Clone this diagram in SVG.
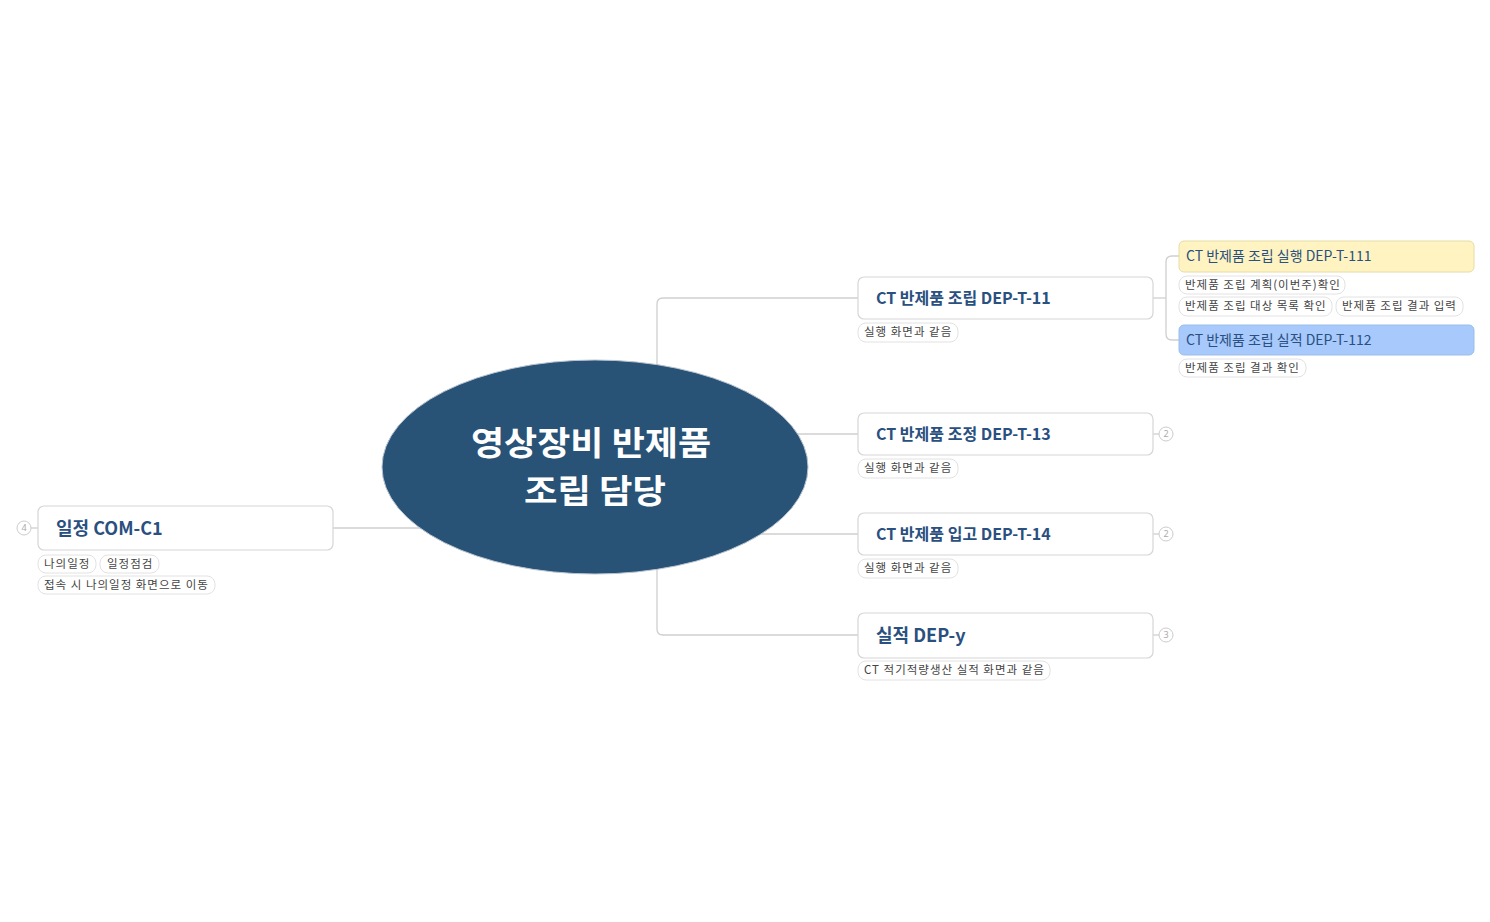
<svg xmlns="http://www.w3.org/2000/svg" width="1490" height="922" viewBox="0 0 1490 922">
<style>
.bg{fill:#ffffff}
.node{fill:#ffffff;stroke:#d6d6d6;stroke-width:1.2}
.pill{fill:#ffffff;stroke:#e2e2e2;stroke-width:1}
.conn{fill:none;stroke:#cfcfcf;stroke-width:1.3}
.t1{font-family:"Noto Sans CJK KR","Noto Sans",sans-serif;font-weight:bold;font-size:16px;fill:#2a5080}
.t2{font-family:"Noto Sans CJK KR","Noto Sans",sans-serif;font-size:14px;fill:#2a5080}
.tp{font-family:"Noto Sans CJK KR","Noto Sans",sans-serif;font-size:11.5px;letter-spacing:1px;fill:#444444}
.cc{fill:#ffffff;stroke:#cccccc;stroke-width:1}
.ct{font-family:"Noto Sans",sans-serif;font-size:9px;fill:#aaaaaa;text-anchor:middle}
.root{font-family:"Noto Sans CJK KR","Noto Sans",sans-serif;font-weight:bold;font-size:33px;fill:#ffffff;text-anchor:middle}
</style>
<rect class="bg" x="0" y="0" width="1490" height="922"/>
<g id="connectors">
<path class="conn" d="M858 298 H663 Q657 298 657 304 V629 Q657 635 663 635 H858"/>
<path class="conn" d="M780 434 H858"/>
<path class="conn" d="M760 534 H858"/>
<path class="conn" d="M333 528 H430"/>
<path class="conn" d="M1153 298 H1166"/>
<path class="conn" d="M1179 256 H1172 Q1166 256 1166 262 V334 Q1166 340 1172 340 H1179"/>
<path class="conn" d="M1153 434 H1159"/>
<path class="conn" d="M1153 534 H1159"/>
<path class="conn" d="M1153 635 H1159"/>
<path class="conn" d="M31 528 H38"/>
</g>
<g id="root">
<ellipse cx="595" cy="467" rx="213" ry="107" fill="#285276" stroke="#b8c4d0" stroke-width="1"/>
<text class="root" x="591" y="455" textLength="240" lengthAdjust="spacingAndGlyphs">영상장비 반제품</text>
<text class="root" x="595" y="503" textLength="142" lengthAdjust="spacingAndGlyphs">조립 담당</text>
</g>
<g id="n-com">
<rect class="node" x="38" y="506" width="295" height="44" rx="6"/>
<text class="t1" x="56" y="535" style="font-size:18px">일정 COM-C1</text>
<circle class="cc" cx="24" cy="528" r="7"/><text class="ct" x="24" y="531">4</text>
<rect class="pill" x="38" y="555" width="58" height="18" rx="8"/><text class="tp" x="44" y="568">나의일정</text>
<rect class="pill" x="100" y="555" width="59" height="18" rx="8"/><text class="tp" x="107" y="568">일정점검</text>
<rect class="pill" x="38" y="576" width="177" height="18" rx="8"/><text class="tp" x="44" y="589">접속 시 나의일정 화면으로 이동</text>
</g>
<g id="n-t11">
<rect class="node" x="858" y="277" width="295" height="42" rx="6"/>
<text class="t1" x="876" y="304">CT 반제품 조립 DEP-T-11</text>
<rect class="pill" x="858" y="323" width="100" height="19" rx="8"/><text class="tp" x="864" y="336">실행 화면과 같음</text>
</g>
<g id="n-t111">
<rect x="1179" y="241" width="295" height="31" rx="5" fill="#fff4c1" stroke="#e5dca5" stroke-width="1"/>
<text class="t2" x="1186" y="261">CT 반제품 조립 실행 DEP-T-111</text>
<rect class="pill" x="1179" y="276" width="166" height="18" rx="8"/><text class="tp" x="1185" y="289">반제품 조립 계획(이번주)확인</text>
<rect class="pill" x="1179" y="297" width="153" height="19" rx="8"/><text class="tp" x="1185" y="310">반제품 조립 대상 목록 확인</text>
<rect class="pill" x="1336" y="297" width="127" height="19" rx="8"/><text class="tp" x="1342" y="310">반제품 조립 결과 입력</text>
</g>
<g id="n-t112">
<rect x="1179" y="325" width="295" height="30" rx="5" fill="#a7c9fb" stroke="#9dbde8" stroke-width="1"/>
<text class="t2" x="1186" y="345">CT 반제품 조립 실적 DEP-T-112</text>
<rect class="pill" x="1179" y="359" width="127" height="18" rx="8"/><text class="tp" x="1185" y="372">반제품 조립 결과 확인</text>
</g>
<g id="n-t13">
<rect class="node" x="858" y="413" width="295" height="42" rx="6"/>
<text class="t1" x="876" y="440">CT 반제품 조정 DEP-T-13</text>
<rect class="pill" x="858" y="459" width="100" height="19" rx="8"/><text class="tp" x="864" y="472">실행 화면과 같음</text>
<circle class="cc" cx="1166" cy="434" r="7"/><text class="ct" x="1166" y="437">2</text>
</g>
<g id="n-t14">
<rect class="node" x="858" y="513" width="295" height="42" rx="6"/>
<text class="t1" x="876" y="540">CT 반제품 입고 DEP-T-14</text>
<rect class="pill" x="858" y="559" width="100" height="19" rx="8"/><text class="tp" x="864" y="572">실행 화면과 같음</text>
<circle class="cc" cx="1166" cy="534" r="7"/><text class="ct" x="1166" y="537">2</text>
</g>
<g id="n-y">
<rect class="node" x="858" y="613" width="295" height="45" rx="6"/>
<text class="t1" x="876" y="642" style="font-size:18px">실적 DEP-y</text>
<rect class="pill" x="858" y="661" width="192" height="19" rx="8"/><text class="tp" x="864" y="674">CT 적기적량생산 실적 화면과 같음</text>
<circle class="cc" cx="1166" cy="635" r="7"/><text class="ct" x="1166" y="638">3</text>
</g>
</svg>
